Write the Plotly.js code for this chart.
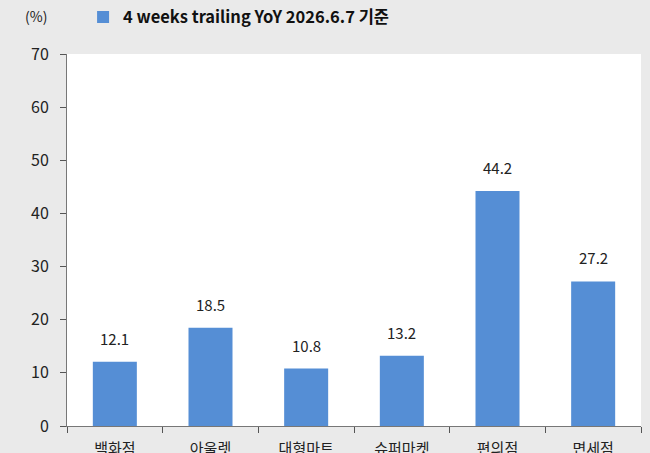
<!DOCTYPE html>
<html><head><meta charset="utf-8">
<script src="https://cdn.plot.ly/plotly-3.0.1.min.js"></script>
<style>body{margin:0;padding:0;background:#eaeaea;}#c{width:650px;height:453px;}</style>
</head><body><div id="c"></div>
<script>
const categories = ['백화점','아울렛','대형마트','슈퍼마켓','편의점','면세점'];
const values = [12.1, 18.5, 10.8, 13.2, 44.2, 27.2];
const seriesName = '4 weeks trailing YoY 2026.6.7 기준';
const yTicks = [0,10,20,30,40,50,60,70];

const font = '"Noto Sans CJK KR", "Noto Sans", sans-serif';
const trace = {
  type: 'bar', x: categories, y: values, name: '<b>' + seriesName + '</b>',
  marker: {color: '#558ed5'}, showlegend: true, hoverinfo: 'none'
};
const annotations = categories.map((c, i) => ({
  x: c, y: values[i], xref: 'x', yref: 'y', text: values[i].toFixed(1),
  showarrow: false, yanchor: 'bottom', yshift: 11,
  font: {family: font, size: 15, color: '#222'}
}));
annotations.push({x: 0, y: 1, xref: 'paper', yref: 'paper', xanchor: 'left', yanchor: 'bottom',
  text: '(%)', showarrow: false, font: {family: font, size: 14, color: '#222'}, xshift: -44, yshift: 26});
const layout = {
  width: 650, height: 453,
  margin: {l: 67, r: 9, t: 54, b: 27, autoexpand: false},
  paper_bgcolor: '#eaeaea', plot_bgcolor: '#ffffff',
  font: {family: font, color: '#222'},
  bargap: 0.54,
  showlegend: true,
  legend: {orientation: 'h', x: 0.028, xanchor: 'left', y: 0.962, yanchor: 'middle', yref: 'container',
    font: {family: font, size: 16.5, color: '#111'}, bgcolor: 'rgba(0,0,0,0)',
    itemwidth: 30, tracegroupgap: 0},
  xaxis: {type: 'category', tickson: 'boundaries', ticks: 'outside', ticklen: 6, tickcolor: '#555',
    showline: true, linecolor: '#777', linewidth: 1, showgrid: false, zeroline: false,
    ticklabelstandoff: 9,
    tickfont: {family: font, size: 15, color: '#222'}},
  yaxis: {range: [0, 70], tickvals: yTicks, ticks: 'outside', ticklen: 6, tickcolor: '#555',
    showline: true, linecolor: '#777', linewidth: 1, showgrid: false, zeroline: false,
    ticklabelstandoff: 8,
    tickfont: {family: font, size: 16, color: '#222'}},
  annotations: annotations
};
Plotly.newPlot('c', [trace], layout, {staticPlot: true, displayModeBar: false});
</script></body></html>
